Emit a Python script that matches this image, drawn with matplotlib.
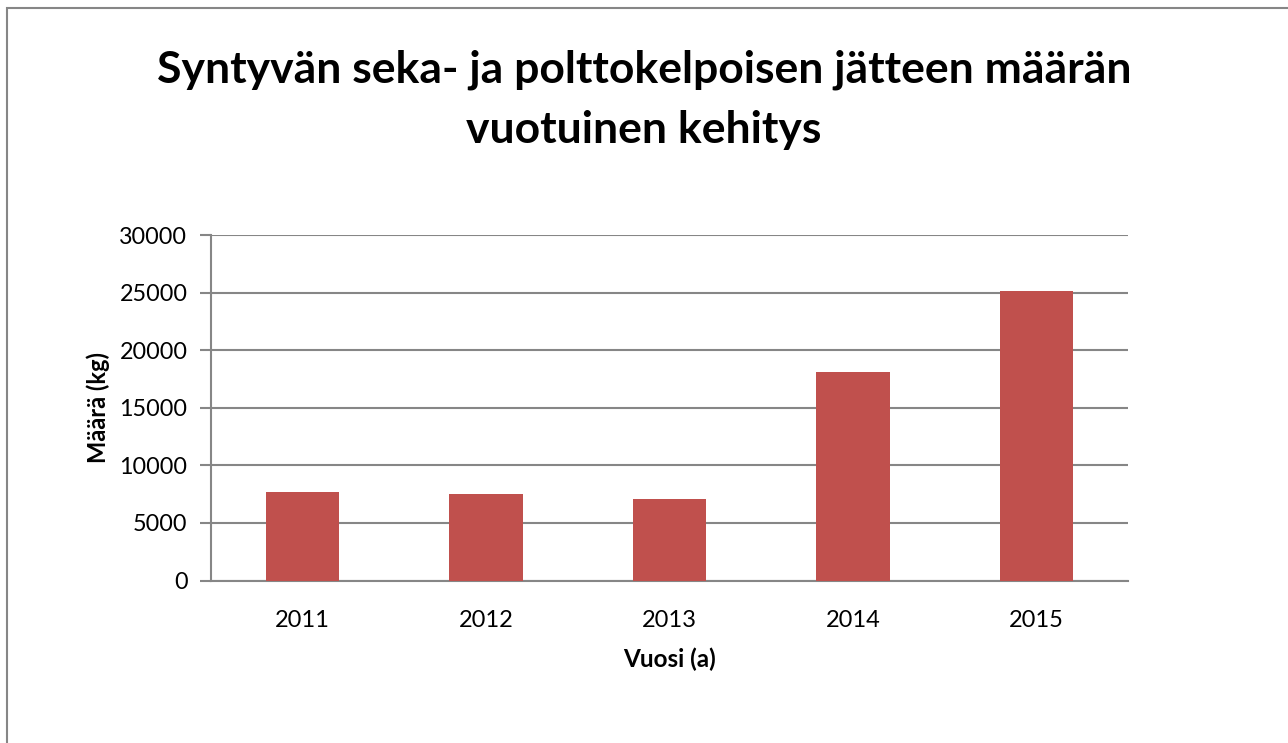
import numpy as np
import matplotlib.pyplot as plt
from matplotlib.patches import Rectangle

plt.rcParams['font.family'] = ['Lato', 'DejaVu Sans']

years = ['2011', '2012', '2013', '2014', '2015']
amounts = [7700, 7500, 7100, 18100, 25150]

title_lines = ['Syntyvän seka- ja polttokelpoisen jätteen määrän',
               'vuotuinen kehitys']
bar_color = '#C0504D'
grid_color = '#868686'

fig = plt.figure(figsize=(12.88, 7.43), dpi=100)
# chart frame (Excel style), right/bottom edges run off the image
fig.patches.append(Rectangle((7 / 1288, -0.1), 1.2, 1 - 8 / 743 + 0.1,
                             transform=fig.transFigure, fill=False,
                             edgecolor='#868686', linewidth=1.5))

ax = fig.add_axes([211 / 1288, 1 - 580.5 / 743, 917 / 1288, 345.5 / 743])
x = np.arange(len(years))
ax.bar(x, amounts, width=0.4, color=bar_color, zorder=3)

ax.set_xlim(-0.5, len(years) - 0.5)
ax.set_ylim(0, 30000)
ax.set_yticks(np.arange(0, 30001, 5000))
ax.set_xticks(x)
ax.set_xticklabels(years)

ax.yaxis.grid(True, color=grid_color, linewidth=1.5, zorder=0)
for s in ['top', 'right']:
    ax.spines[s].set_visible(False)
for s in ['left', 'bottom']:
    ax.spines[s].set_color(grid_color)
    ax.spines[s].set_linewidth(1.5)
ax.tick_params(axis='y', length=8, width=1.5, color=grid_color,
               labelsize=16.8, pad=9)
ax.tick_params(axis='x', length=0, labelsize=17, pad=21)

ax.set_xlabel('Vuosi (a)', fontsize=17.5, fontweight='bold')
ax.set_ylabel('Määrä (kg)', fontsize=17, fontweight='bold')
ax.xaxis.set_label_coords(0.5, -(659 - 580.5) / 345.5)
ax.yaxis.set_label_coords(-(211 - 98) / 917, 0.5)
ax.xaxis.label.set_va('center')
ax.yaxis.label.set_va('center')

for line, base in zip(title_lines, [82, 143]):
    fig.text(0.5, 1 - base / 743, line, ha='center', va='baseline',
             fontsize=32, fontweight='bold')

plt.savefig('out.png', dpi=100)
